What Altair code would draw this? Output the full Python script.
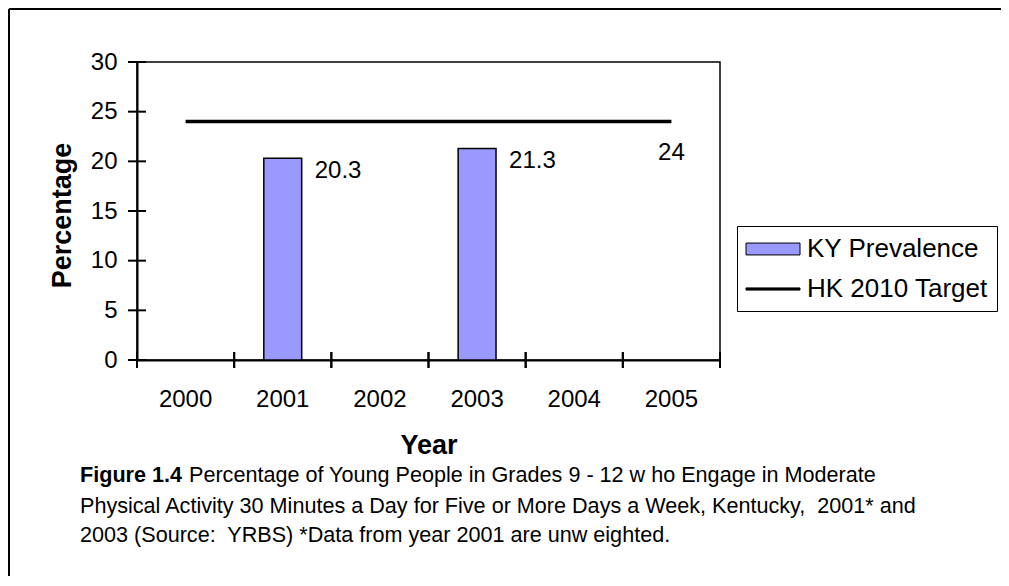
import altair as alt
import pandas as pd

# ---- data ----
years = ["2000", "2001", "2002", "2003", "2004", "2005"]
ky_years = ["2001", "2003"]
ky_values = [20.3, 21.3]
target_years = ["2000", "2005"]
target_values = [24, 24]
series = ["KY Prevalence", "HK 2010 Target"]
y_ticks = [0, 5, 10, 15, 20, 25, 30]
caption_bold = "Figure 1.4"
caption_lines = [
    "Percentage of Young People in Grades 9 - 12 w ho Engage in Moderate",
    "Physical Activity 30 Minutes a Day for Five or More Days a Week, Kentucky,\u00a0 2001* and",
    "2003 (Source:\u00a0 YRBS) *Data from year 2001 are unw eighted.",
]

FONT = "Liberation Sans"
W, H = 583, 298

ky_df = pd.DataFrame({"year": ky_years, "value": ky_values, "series": series[0]})
tg_df = pd.DataFrame({"year": target_years, "value": target_values, "series": series[1]})
tg_label_df = pd.DataFrame({"year": [target_years[-1]], "value": [target_values[-1]]})
legend_df = pd.concat([ky_df, tg_df], ignore_index=True)
ytick_df = pd.DataFrame({"value": y_ticks})
xtick_df = pd.DataFrame({"year": years})

x_axis = alt.Axis(
    title="Year", labelAngle=0, ticks=False, tickSize=0, labelPadding=46,
    labelBaseline="alphabetic", labelFont=FONT, labelFontSize=24, labelColor="black",
    domainColor="black", domainWidth=2, titleFont=FONT, titleFontSize=27,
    titleFontWeight="bold", titleColor="black", titleX=W / 2, titleY=93,
    titleBaseline="alphabetic", titleAlign="center", grid=False,
)
y_axis = alt.Axis(
    title="Percentage", values=y_ticks, ticks=False, tickSize=0, labelPadding=20,
    labelFont=FONT, labelFontSize=24, labelColor="black", domainColor="black",
    domainWidth=2, titleFont=FONT, titleFontSize=27, titleFontWeight="bold",
    titleColor="black", titleX=-75, titleY=H / 2 + 4, titleBaseline="middle",
    titleAlign="center", titleAngle=270, grid=False,
)
x_scale = alt.Scale(domain=years, paddingInner=0, paddingOuter=0)
y_scale = alt.Scale(domain=[0, 30], nice=False)


def X(**kw):
    return alt.X("year:O", scale=x_scale, axis=x_axis, **kw)


def Y():
    return alt.Y("value:Q", scale=y_scale, axis=y_axis)


bars = alt.Chart(ky_df).mark_bar(
    width=alt.RelativeBandSize(0.39), fill="#9999FF", stroke="black", strokeWidth=1.5
).encode(x=X(), y=Y())

line = alt.Chart(tg_df).mark_line(color="black", strokeWidth=3.5).encode(x=X(), y=Y())

rect_path = "M-2,-0.44H2V0.44H-2Z"
line_path = "M-2,-0.08H2V0.08H-2Z"
leg = alt.Legend(
    title=None, orient="none", legendX=600, legendY=164, padding=9,
    strokeColor="black", fillColor="white", rowPadding=13, symbolOffset=13,
    labelOffset=20, symbolSize=729, symbolStrokeWidth=1,
    symbolOpacity=1, labelFont=FONT, labelFontSize=26, labelColor="black",
    labelLimit=400,
)
legend_pts = alt.Chart(legend_df).mark_point(
    filled=True, opacity=0, strokeWidth=1
).encode(
    x=X(), y=Y(),
    color=alt.Color("series:N", scale=alt.Scale(domain=series, range=["#9999FF", "black"]), legend=leg),
    shape=alt.Shape("series:N", scale=alt.Scale(domain=series, range=[rect_path, line_path]), legend=leg),
    stroke=alt.Stroke("series:N", scale=alt.Scale(domain=series, range=["black", "black"]), legend=leg),
)

labels = alt.Chart(ky_df).mark_text(
    align="left", baseline="alphabetic", dx=32, dy=20, font=FONT, fontSize=24, color="black"
).encode(x=X(), y=Y(), text="value:Q")

tg_label = alt.Chart(tg_label_df).mark_text(
    align="center", baseline="alphabetic", dy=38, font=FONT, fontSize=24, color="black"
).encode(x=X(), y=Y(), text="value:Q")

ytick = alt.Chart(ytick_df).mark_rule(color="black", strokeWidth=2).encode(
    y=Y(), x=alt.value(-9), x2=alt.value(9)
)
xtick0 = alt.Chart(xtick_df).mark_rule(color="black", strokeWidth=2).encode(
    x=X(bandPosition=0), y=alt.value(H - 8), y2=alt.value(H + 8)
)
xtick1 = alt.Chart(xtick_df).mark_rule(color="black", strokeWidth=2).encode(
    x=X(bandPosition=1), y=alt.value(H - 8), y2=alt.value(H + 8)
)

one = pd.DataFrame({"a": [0]})
border_left = alt.Chart(one).mark_rule(color="black", strokeWidth=2).encode(
    x=alt.value(-128), y=alt.value(-53), y2=alt.value(H + 300)
)
border_top = alt.Chart(one).mark_rule(color="black", strokeWidth=2).encode(
    x=alt.value(-128), x2=alt.value(W + 400), y=alt.value(-53)
)

CAP_FS = 21.6
cap_bold = alt.Chart(pd.DataFrame({"t": [caption_bold]})).mark_text(
    align="left", baseline="alphabetic", font=FONT, fontSize=CAP_FS, fontWeight="bold", color="black"
).encode(x=alt.value(-57), y=alt.value(420), text="t:N")
cap_layers = []
for i, txt in enumerate(caption_lines):
    cap_layers.append(
        alt.Chart(pd.DataFrame({"t": [txt]})).mark_text(
            align="left", baseline="alphabetic", font=FONT, fontSize=CAP_FS, color="black"
        ).encode(x=alt.value(52 if i == 0 else -57), y=alt.value([420, 451, 480][i]), text="t:N")
    )

chart = alt.layer(
    bars, line, legend_pts, labels, tg_label, ytick, xtick0, xtick1,
    border_left, border_top, cap_bold, *cap_layers
).properties(
    width=W, height=H,
    autosize=alt.AutoSizeParams(type="none"),
    padding={"left": 129, "top": 54, "right": 281, "bottom": 216},
    background="white",
).configure_view(stroke="black", strokeWidth=1.5)

chart.save("out.html", embed_options={"renderer": "svg", "actions": False})
